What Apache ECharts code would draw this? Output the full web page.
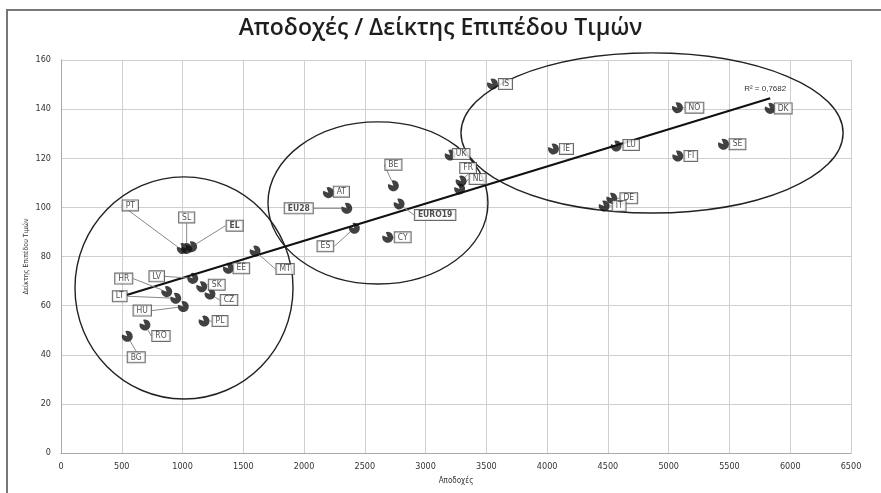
<!DOCTYPE html>
<html><head><meta charset="utf-8">
<script src="https://cdn.jsdelivr.net/npm/echarts@6/dist/echarts.min.js"></script>
<style>html,body{margin:0;padding:0;background:#fff}#c{width:881px;height:493px}</style>
</head><body><div id="c"></div>
<script>
// ---- data ----
const countries = ['BG','RO','PL','HU','LT','HR','LV','SK','CZ','EE','MT','PT','SL','EL','AT','EU28','ES','BE','EURO19','CY','UK','FR','NL','IS','IE','LU','DE','IT','NO','FI','SE','DK'];
const wages     = [545, 691, 1177, 1006, 944, 870, 1084, 1158, 1226, 1377, 1597, 998, 1034, 1075, 2200, 2351, 2414, 2735, 2782, 2688, 3202, 3292, 3280, 3550, 4052, 4568, 4532, 4469, 5072, 5075, 5451, 5835];
const priceIdx  = [47.5, 52.1, 53.7, 59.6, 63.0, 65.7, 71.1, 67.7, 64.7, 75.2, 82.2, 83.3, 83.3, 84.0, 106.0, 99.6, 91.5, 108.8, 101.4, 87.8, 121.3, 110.7, 107.5, 150.2, 123.8, 125.0, 103.7, 100.6, 140.6, 120.9, 125.7, 140.3];
const boldLabels = ['EU28','EURO19','EL'];
const trendX = [540, 5835];
const trendY = [64.3, 144.4];
const r2Text = 'R² = 0,7682';
const xTicks = {min: 0, max: 6500, interval: 500};
const yTicks = {min: 0, max: 160, interval: 20};
// cluster ellipses (data units): [cx, cy, rx, ry]
const clusters = [[1012, 67.2, 897, 45.2], [2608, 101.8, 905, 33.0], [4863, 130.3, 1572, 32.6]];

// ---- layout of labels (pixel offsets from the point) ----
const labelOffsets = {
  BG:[9,21], RO:[16,11], PL:[16,0], HU:[-41,4], LT:[-56,-2], HR:[-43,-13], LV:[-36,-2], SK:[15,-2], CZ:[19,6],
  EE:[13,0], MT:[30,18], PT:[-52,-43], SL:[0,-31], EL:[43,-21], AT:[13,-1], EU28:[-48,0], ES:[-29,18], BE:[0,-21],
  EURO19:[36,11], CY:[15,0], UK:[11,-1], FR:[7,-13], NL:[18,-10], IS:[13,0], IE:[13,0], LU:[15,-1], DE:[17,0],
  IT:[15,0], NO:[17,0], FI:[13,0], SE:[14,0], DK:[13,0]
};

const pac = 'path://M10,10 L6.58,0.60 A10,10 0 1,1 0.60,6.58 Z';
const narrow = "'Liberation Sans Narrow','DejaVu Sans Condensed',sans-serif";

const chart = echarts.init(document.getElementById('c'));
const pts = countries.map((c, i) => ({
  value: [wages[i], priceIdx[i]], name: c,
  label: {fontWeight: boldLabels.includes(c) ? 'bold' : 'normal'}
}));

chart.setOption({
  animation: false,
  title: {text: 'Αποδοχές / Δείκτης Επιπέδου Τιμών', left: 'center', top: 12,
    textStyle: {fontFamily: "'Open Sans',sans-serif", fontSize: 23, fontWeight: 600, color: '#1e1e1e'}},
  grid: {left: 61, right: 30, top: 60, bottom: 40},
  xAxis: {type: 'value', min: xTicks.min, max: xTicks.max, interval: xTicks.interval,
    name: 'Αποδοχές', nameLocation: 'middle', nameGap: 24, nameMoveOverlap: false,
    nameTextStyle: {fontFamily: narrow, fontSize: 8, color: '#333'},
    axisLine: {show: true, lineStyle: {color: '#aaa'}}, axisTick: {show: false},
    axisLabel: {fontFamily: narrow, fontSize: 9, color: '#333', margin: 9, formatter: v => String(v)},
    splitLine: {show: true, lineStyle: {color: '#cfcfcf'}}},
  yAxis: {type: 'value', min: yTicks.min, max: yTicks.max, interval: yTicks.interval,
    name: 'Δείκτης Επιπέδου Τιμών', nameLocation: 'middle', nameGap: 31, nameRotate: 90, nameMoveOverlap: false,
    nameTextStyle: {fontFamily: narrow, fontSize: 7, color: '#333'},
    axisLine: {show: true, lineStyle: {color: '#aaa'}}, axisTick: {show: false},
    axisLabel: {fontFamily: narrow, fontSize: 9, color: '#333', margin: 10, formatter: v => String(v)},
    splitLine: {show: true, lineStyle: {color: '#cfcfcf'}}},
  series: [
    {type: 'line', data: [[trendX[0], trendY[0]], [trendX[1], trendY[1]]], symbol: 'none',
      lineStyle: {color: '#111', width: 2.2}, z: 3, silent: true},
    {type: 'scatter', data: pts, symbol: pac, symbolSize: 11, itemStyle: {color: '#111'}, z: 4,
      label: {show: true, position: 'inside', formatter: '{b}', fontFamily: narrow, fontSize: 8.5, color: '#222',
        backgroundColor: '#fff', borderColor: '#444', borderWidth: 1, padding: [1, 3, 0, 3]},
      labelLine: {show: true, lineStyle: {color: '#888', width: 1}},
      labelLayout: function (p) {
        const o = labelOffsets[countries[p.dataIndex]] || [12, 0];
        return {dx: o[0], dy: o[1]};
      }}
  ]
});

function drawExtras() {
  const g = clusters.map(c => {
    const ctr = chart.convertToPixel({gridIndex: 0}, [c[0], c[1]]);
    const e = chart.convertToPixel({gridIndex: 0}, [c[0] + c[2], c[1] + c[3]]);
    return {type: 'ellipse', shape: {cx: ctr[0], cy: ctr[1], rx: Math.abs(e[0] - ctr[0]), ry: Math.abs(ctr[1] - e[1])},
      style: {fill: 'none', stroke: '#222', lineWidth: 1.4}, z: 2, silent: true};
  });
  const tp = chart.convertToPixel({gridIndex: 0}, [trendX[1], trendY[1]]);
  g.push({type: 'text', x: tp[0] - 5, y: tp[1] - 14, style: {text: r2Text, font: "8px 'Liberation Sans Narrow',sans-serif", fill: '#333', textAlign: 'center'}, z: 5});
  g.push({type: 'rect', shape: {x: 7, y: 10, width: 900, height: 520}, style: {fill: 'none', stroke: '#777', lineWidth: 2}, z: 0, silent: true});
  chart.setOption({graphic: g});
}
drawExtras();
</script></body></html>
